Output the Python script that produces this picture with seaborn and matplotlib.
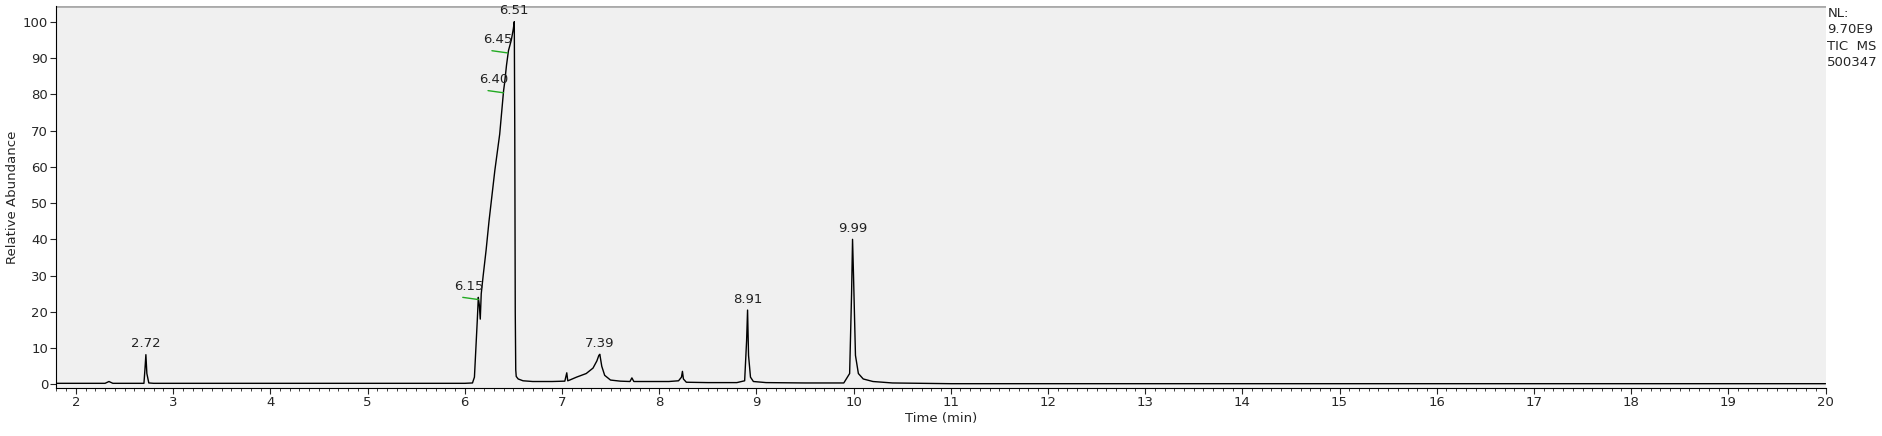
import matplotlib

matplotlib.use("Agg")
import matplotlib.pyplot as plt
import seaborn as sns
import pandas as pd

# chromatogram trace
time_min = [1.80, 2.30, 2.34, 2.38, 2.70, 2.71, 2.72, 2.73, 2.75, 2.80, 4.00, 5.50, 6.00, 6.08,
            6.10, 6.13, 6.14, 6.15, 6.16, 6.17, 6.19, 6.22, 6.25, 6.28, 6.31, 6.34, 6.36,
            6.37, 6.39, 6.40, 6.41, 6.43, 6.45, 6.46, 6.48, 6.50, 6.51, 6.515, 6.52,
            6.525, 6.53, 6.55, 6.60, 6.70, 6.90, 7.03, 7.05, 7.06, 7.08, 7.15, 7.25, 7.32,
            7.36, 7.38, 7.39, 7.41, 7.44, 7.50, 7.60, 7.70, 7.72, 7.74, 7.90, 8.10, 8.20,
            8.23, 8.24, 8.25, 8.28, 8.50, 8.80, 8.88, 8.90, 8.91, 8.92, 8.94, 8.97, 9.10,
            9.50, 9.90, 9.96, 9.98, 9.99, 10.00, 10.02, 10.05, 10.10, 10.20, 10.40, 11.0, 20.0]
abundance = [0.3, 0.3, 0.8, 0.3, 0.3, 4.0, 8.2, 3.0, 0.4, 0.3, 0.3, 0.3, 0.3, 0.4,
             2.0, 18.0, 24.0, 22.0, 18.0, 25.0, 30.0, 37.0, 45.0, 52.0, 59.0, 65.0, 69.0,
             72.0, 78.0, 81.0, 83.0, 88.0, 92.0, 93.0, 95.0, 98.0, 100.0, 70.0, 20.0,
             4.0, 2.2, 1.5, 1.0, 0.8, 0.8, 0.9, 3.2, 1.0, 1.2, 2.0, 3.0, 4.5,
             6.5, 8.0, 8.3, 5.0, 2.5, 1.2, 0.9, 0.8, 1.8, 0.8, 0.8, 0.8, 1.0,
             2.0, 3.6, 1.5, 0.6, 0.5, 0.5, 1.0, 12.0, 20.5, 8.0, 2.0, 0.8, 0.5,
             0.4, 0.4, 3.0, 25.0, 40.0, 30.0, 8.0, 3.0, 1.5, 0.8, 0.4, 0.2, 0.2]

peak_rt = ["2.72", "6.15", "6.40", "6.45", "6.51", "7.39", "8.91", "9.99"]
peak_x = [2.72, 6.04, 6.30, 6.34, 6.51, 7.39, 8.91, 9.99]
peak_y = [8.2, 24.0, 81.0, 92.0, 100.0, 8.3, 20.5, 40.0]
green_tick = [False, True, True, True, False, False, False, False]

df = pd.DataFrame({"Time (min)": time_min, "Relative Abundance": abundance})

sns.set_style("white")
fig = plt.figure(figsize=(18.82, 4.36), dpi=100)
ax = fig.add_axes([0.030, 0.11, 0.940, 0.876])
ax.set_facecolor("#f0f0f0")
sns.lineplot(data=df, x="Time (min)", y="Relative Abundance", ax=ax,
             color="black", linewidth=1.0, estimator=None, sort=False)

for lbl, x, y, g in zip(peak_rt, peak_x, peak_y, green_tick):
    ax.text(x, y + 1.2, lbl, ha="center", va="bottom", fontsize=9.5, color="#222222")
    if g:
        ax.plot([x - 0.06, x + 0.1], [y, y - 0.6], color="#22aa22", linewidth=1.0)

ax.set_xlim(1.8, 20)
ax.set_ylim(-1, 104.3)
ax.set_xticks(range(2, 21))
ax.set_xticks([t / 10 for t in range(18, 201)], minor=True)
ax.set_yticks(range(0, 101, 10))
ax.tick_params(axis="both", which="major", length=4, labelsize=9.5, direction="out", pad=2)
ax.tick_params(axis="x", which="minor", length=2, direction="out")
ax.xaxis.set_ticks_position("bottom")
ax.yaxis.set_ticks_position("left")
ax.set_xlabel("Time (min)", fontsize=9.5, labelpad=2)
ax.set_ylabel("Relative Abundance", fontsize=9.5, labelpad=3)
for side in ["top", "right"]:
    ax.spines[side].set_visible(False)
ax.spines["left"].set_color("black")
ax.spines["bottom"].set_color("black")
ax.axhline(104.3, color="#aaaaaa", linewidth=2)

fig.text(0.971, 0.985, "NL:\n9.70E9\nTIC  MS\n500347", ha="left", va="top",
         fontsize=9.5, linespacing=1.35)

fig.savefig("out.png", dpi=100)
